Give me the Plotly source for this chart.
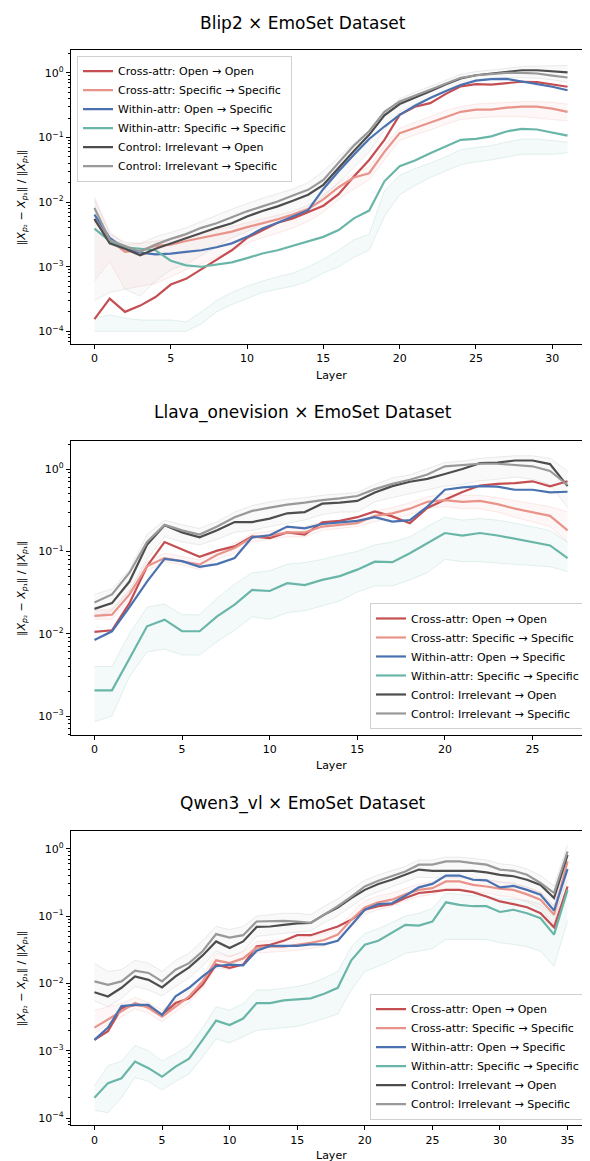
import plotly.graph_objects as go
from plotly.subplots import make_subplots

# ---- data (ratio per layer) ----
series_names = [
    "Cross-attr: Open → Open",
    "Cross-attr: Specific → Specific",
    "Within-attr: Open → Specific",
    "Within-attr: Specific → Specific",
    "Control: Irrelevant → Open",
    "Control: Irrelevant → Specific",
]
panel_titles = ["Blip2 × EmoSet Dataset", "Llava_onevision × EmoSet Dataset", "Qwen3_vl × EmoSet Dataset"]
n_layers = [32, 28, 36]
x_tick_vals = [0, 5, 10, 15, 20, 25, 30, 35]
y_tick_vals = [1e-4, 1e-3, 1e-2, 1e-1, 1e0]
y_tick_text = ["10<sup>−4</sup>", "10<sup>−3</sup>", "10<sup>−2</sup>", "10<sup>−1</sup>", "10<sup>0</sup>"]

# Blip2
blip_cross_open = [1.55e-4, 3.2e-4, 2.0e-4, 2.5e-4, 3.4e-4, 5.3e-4, 6.5e-4, 9.1e-4, 1.3e-3, 1.8e-3,
                   2.8e-3, 3.7e-3, 4.8e-3, 5.6e-3, 7.0e-3, 8.8e-3, 1.33e-2, 2.5e-2, 4.5e-2, 9.2e-2,
                   0.224, 0.30, 0.34, 0.47, 0.62, 0.67, 0.66, 0.70, 0.73, 0.72, 0.67, 0.61]
blip_cross_spec = [5.3e-3, 2.6e-3, 1.7e-3, 1.8e-3, 2.1e-3, 2.2e-3, 2.5e-3, 2.8e-3, 3.1e-3, 3.5e-3,
                   4.1e-3, 4.7e-3, 5.4e-3, 6.4e-3, 7.8e-3, 1.1e-2, 1.7e-2, 2.4e-2, 2.8e-2, 6.0e-2,
                   0.117, 0.14, 0.17, 0.21, 0.25, 0.27, 0.27, 0.29, 0.30, 0.30, 0.28, 0.25]
blip_within_open = [6.4e-3, 2.8e-3, 1.9e-3, 1.65e-3, 1.55e-3, 1.6e-3, 1.7e-3, 1.8e-3, 2.0e-3, 2.3e-3,
                    2.9e-3, 3.9e-3, 4.8e-3, 6.0e-3, 7.5e-3, 1.6e-2, 3.0e-2, 5.4e-2, 9.5e-2, 0.148,
                    0.224, 0.31, 0.41, 0.52, 0.65, 0.76, 0.80, 0.81, 0.74, 0.68, 0.61, 0.54]
blip_within_spec = [3.9e-3, 2.5e-3, 2.0e-3, 1.9e-3, 1.8e-3, 1.24e-3, 1.05e-3, 1.0e-3, 1.08e-3, 1.17e-3,
                    1.36e-3, 1.6e-3, 1.8e-3, 2.1e-3, 2.5e-3, 2.9e-3, 3.7e-3, 5.6e-3, 7.4e-3, 2.1e-2,
                    3.6e-2, 4.4e-2, 5.7e-2, 7.3e-2, 9.2e-2, 9.5e-2, 0.104, 0.124, 0.136, 0.133, 0.12, 0.107]
blip_ctrl_open = [5.5e-3, 2.3e-3, 1.9e-3, 1.5e-3, 1.9e-3, 2.3e-3, 2.8e-3, 3.3e-3, 4.0e-3, 4.7e-3,
                  6.0e-3, 7.3e-3, 8.6e-3, 1.05e-2, 1.3e-2, 1.85e-2, 3.4e-2, 6.2e-2, 0.11, 0.22,
                  0.33, 0.41, 0.52, 0.66, 0.82, 0.92, 0.98, 1.04, 1.1, 1.1, 1.07, 1.02]
blip_ctrl_spec = [8.1e-3, 2.6e-3, 2.1e-3, 1.7e-3, 2.2e-3, 2.7e-3, 3.2e-3, 4.0e-3, 4.7e-3, 5.8e-3,
                  7.2e-3, 8.6e-3, 1.02e-2, 1.27e-2, 1.55e-2, 2.2e-2, 4.0e-2, 7.5e-2, 0.125, 0.25,
                  0.36, 0.44, 0.55, 0.68, 0.84, 0.92, 0.97, 1.0, 1.0, 0.98, 0.91, 0.85]
# per-prompt spread (faint lines), low / high edge
blip_teal_lo = [1.0e-4, 1.0e-4, 1.0e-4, 1.0e-4, 1.0e-4, 1.0e-4, 1.0e-4, 1.3e-4, 2.0e-4, 2.6e-4,
                3.2e-4, 4.0e-4, 4.5e-4, 5.0e-4, 6.0e-4, 8.0e-4, 1.0e-3, 1.4e-3, 1.8e-3, 6.0e-3,
                1.3e-2, 1.8e-2, 2.4e-2, 3.0e-2, 3.8e-2, 4.2e-2, 4.5e-2, 5.0e-2, 5.5e-2, 5.5e-2, 5.5e-2, 5.8e-2]
blip_teal_hi = [1.6e-4, 1.8e-4, 1.6e-4, 1.5e-4, 1.5e-4, 1.5e-4, 1.4e-4, 2.0e-4, 3.0e-4, 4.0e-4,
                5.0e-4, 6.0e-4, 7.0e-4, 8.0e-4, 1.0e-3, 1.3e-3, 1.8e-3, 2.6e-3, 3.2e-3, 1.5e-2,
                2.6e-2, 3.3e-2, 4.0e-2, 5.0e-2, 6.5e-2, 7.0e-2, 7.5e-2, 8.5e-2, 9.5e-2, 9.5e-2, 9.0e-2, 8.5e-2]
blip_salmon_lo = [6.0e-4, 1.2e-3, 4.5e-4, 5.0e-4, 5.5e-4, 7.0e-4, 9.0e-4, 1.1e-3, 1.4e-3, 1.8e-3,
                  2.3e-3, 2.8e-3, 3.3e-3, 4.0e-3, 5.0e-3, 7.0e-3, 1.1e-2, 1.6e-2, 2.2e-2, 4.5e-2,
                  9.0e-2, 0.11, 0.13, 0.16, 0.19, 0.20, 0.21, 0.21, 0.21, 0.20, 0.19, 0.18]
blip_salmon_hi = [1.2e-2, 3.5e-3, 2.2e-3, 2.3e-3, 2.5e-3, 2.7e-3, 2.9e-3, 3.3e-3, 3.7e-3, 4.2e-3,
                  4.8e-3, 5.5e-3, 6.2e-3, 7.2e-3, 9.0e-3, 1.3e-2, 2.0e-2, 2.8e-2, 3.5e-2, 7.5e-2,
                  0.14, 0.17, 0.21, 0.26, 0.30, 0.33, 0.34, 0.35, 0.36, 0.36, 0.35, 0.33]
blip_gray_lo = [3.0e-4, 4.0e-4, 4.5e-4, 3.5e-4, 6.0e-4, 9.0e-4, 1.1e-3, 1.5e-3, 2.0e-3, 2.8e-3,
                3.5e-3, 4.5e-3, 5.5e-3, 6.5e-3, 8.0e-3, 1.2e-2, 2.0e-2, 3.5e-2, 6.0e-2, 0.13,
                0.25, 0.33, 0.42, 0.55, 0.68, 0.78, 0.83, 0.85, 0.85, 0.83, 0.78, 0.72]
blip_gray_hi = [1.1e-2, 3.2e-3, 2.4e-3, 2.3e-3, 2.9e-3, 3.4e-3, 4.0e-3, 5.0e-3, 6.3e-3, 7.8e-3,
                9.5e-3, 1.15e-2, 1.35e-2, 1.6e-2, 2.0e-2, 3.0e-2, 5.0e-2, 8.0e-2, 0.13, 0.24,
                0.40, 0.50, 0.62, 0.78, 0.95, 1.05, 1.12, 1.18, 1.25, 1.28, 1.30, 1.30]

# Llava_onevision
llava_cross_open = [1.05e-2, 1.1e-2, 2.35e-2, 6.6e-2, 0.13, 0.105, 0.086, 0.102, 0.115, 0.152,
                    0.145, 0.17, 0.16, 0.225, 0.235, 0.26, 0.306, 0.266, 0.22, 0.336,
                    0.425, 0.525, 0.63, 0.66, 0.675, 0.71, 0.615, 0.71]
llava_cross_spec = [1.65e-2, 1.7e-2, 3.0e-2, 6.6e-2, 8.3e-2, 7.6e-2, 6.9e-2, 9.1e-2, 0.11, 0.148,
                    0.155, 0.17, 0.17, 0.20, 0.21, 0.22, 0.27, 0.29, 0.33, 0.40,
                    0.42, 0.40, 0.41, 0.375, 0.33, 0.30, 0.27, 0.18]
llava_within_open = [8.4e-3, 1.07e-2, 2.1e-2, 4.3e-2, 8.1e-2, 7.6e-2, 6.5e-2, 7.0e-2, 8.3e-2, 0.148,
                     0.157, 0.20, 0.19, 0.215, 0.225, 0.235, 0.26, 0.23, 0.24, 0.35,
                     0.56, 0.60, 0.62, 0.61, 0.56, 0.56, 0.52, 0.53]
llava_within_spec = [2.05e-3, 2.05e-3, 5.0e-3, 1.23e-2, 1.48e-2, 1.07e-2, 1.07e-2, 1.62e-2, 2.25e-2, 3.4e-2,
                     3.3e-2, 4.1e-2, 3.9e-2, 4.5e-2, 5.0e-2, 6.0e-2, 7.5e-2, 7.4e-2, 9.5e-2, 0.127,
                     0.167, 0.155, 0.167, 0.156, 0.142, 0.13, 0.118, 0.083]
llava_ctrl_open = [2.0e-2, 2.35e-2, 4.3e-2, 0.12, 0.207, 0.17, 0.148, 0.18, 0.227, 0.227,
                   0.25, 0.29, 0.30, 0.38, 0.39, 0.41, 0.52, 0.62, 0.70, 0.76,
                   0.87, 1.0, 1.18, 1.2, 1.27, 1.27, 1.15, 0.62]
llava_ctrl_spec = [2.4e-2, 3.0e-2, 5.5e-2, 0.13, 0.21, 0.18, 0.16, 0.20, 0.26, 0.31,
                   0.34, 0.37, 0.39, 0.42, 0.44, 0.47, 0.57, 0.66, 0.74, 0.86,
                   1.08, 1.12, 1.16, 1.16, 1.12, 1.08, 0.95, 0.64]
llava_teal_lo = [8.5e-4, 1.0e-3, 3.0e-3, 6.0e-3, 6.5e-3, 5.5e-3, 5.5e-3, 8.0e-3, 1.1e-2, 1.6e-2,
                 1.5e-2, 1.8e-2, 1.9e-2, 2.2e-2, 2.5e-2, 3.2e-2, 3.8e-2, 3.8e-2, 4.5e-2, 5.5e-2,
                 8.0e-2, 7.5e-2, 7.5e-2, 7.2e-2, 7.0e-2, 6.8e-2, 6.5e-2, 5.7e-2]
llava_teal_hi = [4.0e-3, 4.0e-3, 1.0e-2, 2.1e-2, 2.3e-2, 1.7e-2, 1.7e-2, 2.7e-2, 4.0e-2, 5.5e-2,
                 5.8e-2, 7.0e-2, 7.3e-2, 8.0e-2, 9.0e-2, 0.10, 0.12, 0.13, 0.15, 0.20,
                 0.26, 0.24, 0.25, 0.24, 0.22, 0.20, 0.18, 0.13]
llava_salmon_lo = [1.5e-2, 1.5e-2, 2.6e-2, 5.8e-2, 7.5e-2, 6.8e-2, 6.0e-2, 8.0e-2, 9.5e-2, 0.13,
                   0.14, 0.15, 0.15, 0.18, 0.19, 0.20, 0.23, 0.25, 0.28, 0.33,
                   0.35, 0.33, 0.33, 0.30, 0.26, 0.23, 0.20, 0.13]
llava_salmon_hi = [1.9e-2, 2.0e-2, 3.4e-2, 7.5e-2, 9.5e-2, 8.6e-2, 7.9e-2, 0.10, 0.125, 0.165,
                   0.175, 0.19, 0.20, 0.23, 0.24, 0.26, 0.31, 0.34, 0.39, 0.46,
                   0.50, 0.48, 0.48, 0.45, 0.41, 0.38, 0.35, 0.30]
llava_gray_lo = [1.6e-2, 1.9e-2, 3.3e-2, 8.0e-2, 0.15, 0.13, 0.12, 0.14, 0.17, 0.18,
                 0.20, 0.22, 0.24, 0.28, 0.30, 0.30, 0.40, 0.45, 0.50, 0.56,
                 0.62, 0.65, 0.72, 0.75, 0.80, 0.75, 0.65, 0.34]
llava_gray_hi = [3.0e-2, 3.5e-2, 6.0e-2, 0.16, 0.24, 0.21, 0.19, 0.23, 0.30, 0.36,
                 0.40, 0.43, 0.45, 0.48, 0.50, 0.52, 0.65, 0.78, 0.85, 1.0,
                 1.2, 1.25, 1.35, 1.4, 1.45, 1.45, 1.35, 0.95]

# Qwen3_vl
qwen_cross_open = [1.45e-3, 1.95e-3, 4.3e-3, 4.8e-3, 4.6e-3, 3.4e-3, 5.1e-3, 6.0e-3, 9.5e-3, 1.9e-2,
                   1.7e-2, 1.9e-2, 3.55e-2, 3.75e-2, 4.3e-2, 5.2e-2, 5.2e-2, 6.0e-2, 7.0e-2, 8.8e-2,
                   0.124, 0.14, 0.15, 0.185, 0.22, 0.23, 0.245, 0.245, 0.227, 0.195,
                   0.165, 0.15, 0.135, 0.11, 0.068, 0.275]
qwen_cross_spec = [2.2e-3, 2.9e-3, 3.8e-3, 5.1e-3, 4.3e-3, 3.2e-3, 4.5e-3, 6.4e-3, 1.07e-2, 2.2e-2,
                   2.0e-2, 2.35e-2, 3.4e-2, 3.5e-2, 3.5e-2, 3.7e-2, 4.0e-2, 4.4e-2, 5.3e-2, 8.8e-2,
                   0.134, 0.16, 0.175, 0.21, 0.245, 0.26, 0.327, 0.327, 0.29, 0.275,
                   0.255, 0.245, 0.21, 0.175, 0.105, 0.65]
qwen_within_open = [1.45e-3, 2.2e-3, 4.6e-3, 4.8e-3, 4.8e-3, 3.4e-3, 6.4e-3, 8.6e-3, 1.27e-2, 1.8e-2,
                    1.9e-2, 1.85e-2, 3.05e-2, 3.6e-2, 3.6e-2, 3.6e-2, 3.8e-2, 3.8e-2, 4.3e-2, 7.4e-2,
                    0.124, 0.15, 0.155, 0.20, 0.267, 0.30, 0.40, 0.40, 0.346, 0.34,
                    0.267, 0.28, 0.245, 0.207, 0.121, 0.50]
qwen_within_spec = [2.0e-4, 3.3e-4, 3.9e-4, 6.9e-4, 5.5e-4, 4.1e-4, 5.8e-4, 7.6e-4, 1.45e-3, 2.8e-3,
                    2.4e-3, 3.0e-3, 5.1e-3, 5.1e-3, 5.6e-3, 5.8e-3, 6.0e-3, 7.0e-3, 8.6e-3, 2.2e-2,
                    3.75e-2, 4.3e-2, 5.6e-2, 7.4e-2, 7.2e-2, 8.3e-2, 0.16, 0.147, 0.14, 0.14,
                    0.115, 0.124, 0.11, 0.093, 0.053, 0.245]
qwen_ctrl_open = [7.4e-3, 6.4e-3, 8.6e-3, 1.27e-2, 1.13e-2, 8.7e-3, 1.27e-2, 1.73e-2, 2.6e-2, 4.2e-2,
                  3.35e-2, 4.2e-2, 6.9e-2, 7.0e-2, 7.4e-2, 7.8e-2, 7.9e-2, 0.105, 0.134, 0.185,
                  0.245, 0.30, 0.346, 0.41, 0.49, 0.47, 0.47, 0.475, 0.47, 0.445,
                  0.41, 0.39, 0.346, 0.29, 0.185, 0.81]
qwen_ctrl_spec = [1.07e-2, 9.5e-3, 1.07e-2, 1.54e-2, 1.43e-2, 1.07e-2, 1.6e-2, 2.0e-2, 3.0e-2, 5.4e-2,
                  4.8e-2, 5.2e-2, 8.3e-2, 8.5e-2, 8.5e-2, 8.3e-2, 7.9e-2, 0.105, 0.14, 0.195,
                  0.275, 0.335, 0.39, 0.46, 0.58, 0.58, 0.65, 0.65, 0.61, 0.58,
                  0.49, 0.47, 0.41, 0.31, 0.22, 0.91]
qwen_teal_lo = [1.3e-4, 1.2e-4, 2.0e-4, 4.0e-4, 3.5e-4, 2.6e-4, 3.5e-4, 4.5e-4, 8.0e-4, 1.5e-3,
                1.3e-3, 1.6e-3, 2.0e-3, 2.1e-3, 2.2e-3, 2.3e-3, 2.6e-3, 3.0e-3, 3.5e-3, 8.0e-3,
                1.5e-2, 1.8e-2, 2.2e-2, 2.8e-2, 3.0e-2, 3.3e-2, 4.5e-2, 4.5e-2, 4.5e-2, 4.5e-2,
                4.0e-2, 3.8e-2, 3.5e-2, 3.0e-2, 1.8e-2, 8.5e-2]
qwen_teal_hi = [3.0e-4, 6.0e-4, 7.0e-4, 1.2e-3, 1.0e-3, 7.0e-4, 9.0e-4, 1.2e-3, 2.2e-3, 4.5e-3,
                4.0e-3, 5.0e-3, 8.0e-3, 8.0e-3, 8.5e-3, 9.0e-3, 1.0e-2, 1.2e-2, 1.5e-2, 3.5e-2,
                5.5e-2, 6.5e-2, 8.0e-2, 0.10, 0.11, 0.13, 0.22, 0.21, 0.20, 0.20,
                0.18, 0.18, 0.17, 0.15, 0.10, 0.35]
qwen_salmon_lo = [1.8e-3, 2.5e-3, 3.2e-3, 4.2e-3, 3.6e-3, 2.7e-3, 3.8e-3, 5.2e-3, 8.5e-3, 1.7e-2,
                  1.6e-2, 1.9e-2, 2.8e-2, 2.9e-2, 3.0e-2, 3.1e-2, 3.3e-2, 3.6e-2, 4.3e-2, 7.0e-2,
                  0.105, 0.125, 0.14, 0.17, 0.195, 0.21, 0.25, 0.25, 0.23, 0.22,
                  0.20, 0.19, 0.16, 0.13, 0.075, 0.45]
qwen_salmon_hi = [4.0e-3, 4.5e-3, 5.0e-3, 6.2e-3, 5.2e-3, 4.0e-3, 5.5e-3, 7.8e-3, 1.3e-2, 2.8e-2,
                  2.5e-2, 2.9e-2, 4.2e-2, 4.3e-2, 4.4e-2, 4.6e-2, 5.0e-2, 5.5e-2, 6.5e-2, 0.11,
                  0.17, 0.20, 0.22, 0.26, 0.30, 0.32, 0.40, 0.40, 0.36, 0.34,
                  0.32, 0.31, 0.27, 0.23, 0.14, 0.85]
qwen_gray_lo = [5.5e-3, 4.5e-3, 6.0e-3, 9.0e-3, 8.0e-3, 6.5e-3, 9.0e-3, 1.2e-2, 1.8e-2, 3.0e-2,
                2.5e-2, 3.0e-2, 5.0e-2, 5.2e-2, 5.5e-2, 5.8e-2, 6.0e-2, 8.0e-2, 0.10, 0.14,
                0.19, 0.23, 0.27, 0.32, 0.38, 0.37, 0.37, 0.37, 0.37, 0.35,
                0.32, 0.30, 0.27, 0.22, 0.14, 0.60]
qwen_gray_hi = [2.0e-2, 1.5e-2, 1.6e-2, 2.2e-2, 2.0e-2, 1.5e-2, 2.2e-2, 2.8e-2, 4.3e-2, 7.0e-2,
                6.3e-2, 7.0e-2, 0.10, 0.105, 0.11, 0.11, 0.105, 0.14, 0.18, 0.25,
                0.34, 0.41, 0.47, 0.55, 0.68, 0.68, 0.75, 0.75, 0.72, 0.68,
                0.60, 0.57, 0.50, 0.40, 0.28, 1.15]

# ---- styling ----
FONT = "DejaVu Sans"
line_colors = ["#c44e52", "#e8948a", "#4a72b0", "#69b6a8", "#4d4d4d", "#999999"]
band_styles = {  # fill, edge
    "teal": ("rgba(105,182,168,0.07)", "rgba(105,182,168,0.22)"),
    "salmon": ("rgba(232,148,138,0.07)", "rgba(232,148,138,0.22)"),
    "gray": ("rgba(150,150,150,0.06)", "rgba(150,150,150,0.22)"),
}

panels = [
    dict(means=[blip_cross_open, blip_cross_spec, blip_within_open, blip_within_spec, blip_ctrl_open, blip_ctrl_spec],
         bands=[("gray", blip_gray_lo, blip_gray_hi), ("salmon", blip_salmon_lo, blip_salmon_hi),
                ("teal", blip_teal_lo, blip_teal_hi)],
         yrange=[-4.196, 0.35],
         legend=dict(x=0.117, y=0.959, xanchor="left", yanchor="top")),
    dict(means=[llava_cross_open, llava_cross_spec, llava_within_open, llava_within_spec, llava_ctrl_open, llava_ctrl_spec],
         bands=[("gray", llava_gray_lo, llava_gray_hi), ("salmon", llava_salmon_lo, llava_salmon_hi),
                ("teal", llava_teal_lo, llava_teal_hi)],
         yrange=[-3.227, 0.337],
         legend=dict(x=0.978, y=0.379, xanchor="right", yanchor="bottom")),
    dict(means=[qwen_cross_open, qwen_cross_spec, qwen_within_open, qwen_within_spec, qwen_ctrl_open, qwen_ctrl_spec],
         bands=[("gray", qwen_gray_lo, qwen_gray_hi), ("salmon", qwen_salmon_lo, qwen_salmon_hi),
                ("teal", qwen_teal_lo, qwen_teal_hi)],
         yrange=[-4.108, 0.259],
         legend=dict(x=0.978, y=0.0425, xanchor="right", yanchor="bottom")),
]

# pixel boxes of the three axes in the 590x1161 page
W, H = 590, 1161
y_boxes = [(42.3, 336.0), (433.3, 726.7), (823.3, 1117.3)]
title_y = [15, 405, 795]
xlabel_y = [367, 757, 1147]
x_dom = [62.8 / W, 583.2 / W]

fig = make_subplots(rows=3, cols=1)
minor_vals = [m * 10.0 ** k for k in range(-5, 1) for m in range(2, 10)]

for i, p in enumerate(panels):
    row = i + 1
    n = n_layers[i]
    layers = list(range(n))
    leg = "legend" if i == 0 else f"legend{i + 1}"

    for kind, lo, hi in p["bands"]:
        fill, edge = band_styles[kind]
        fig.add_trace(go.Scatter(x=layers, y=lo, mode="lines", line=dict(color=edge, width=0.8),
                                 showlegend=False, hoverinfo="skip", legend=leg), row=row, col=1)
        fig.add_trace(go.Scatter(x=layers, y=hi, mode="lines", line=dict(color=edge, width=0.8),
                                 fill="tonexty", fillcolor=fill,
                                 showlegend=False, hoverinfo="skip", legend=leg), row=row, col=1)

    for name, vals, color in zip(series_names, p["means"], line_colors):
        fig.add_trace(go.Scatter(x=layers, y=vals, mode="lines", name=name,
                                 line=dict(color=color, width=2.2), legend=leg), row=row, col=1)

    top, bot = y_boxes[i]
    ax_suffix = "" if i == 0 else str(i + 1)
    fig.update_layout(**{
        f"xaxis{ax_suffix}": dict(
            domain=x_dom, range=[-0.05 * (n - 1), (n - 1) * 1.05],
            tickvals=[v for v in x_tick_vals if v < n],
            showline=True, linecolor="black", linewidth=1, mirror=True,
            ticks="outside", ticklen=4, tickcolor="black",
            showgrid=False, zeroline=False,
            tickfont=dict(family=FONT, size=11, color="black"),
        ),
        f"yaxis{ax_suffix}": dict(
            type="log", domain=[1 - bot / H, 1 - top / H], range=p["yrange"],
            tickvals=y_tick_vals, ticktext=y_tick_text,
            showline=True, linecolor="black", linewidth=1, mirror=True,
            ticks="outside", ticklen=4, tickcolor="black",
            minor=dict(tickvals=minor_vals, ticks="outside", ticklen=2, tickcolor="black", showgrid=False),
            showgrid=False, zeroline=False,
            tickfont=dict(family=FONT, size=11, color="black"),
        ),
        leg: dict(**p["legend"], bgcolor="rgba(255,255,255,0.85)", bordercolor="#d0d0d0",
                  borderwidth=1, font=dict(family=FONT, size=11, color="black"),
                  traceorder="normal", tracegroupgap=0, itemwidth=30),
    })

    fig.add_annotation(text=panel_titles[i], x=0.5, y=1 - title_y[i] / H, xref="paper", yref="paper",
                       showarrow=False, xanchor="center", yanchor="middle",
                       font=dict(family=FONT, size=17, color="black"))
    fig.add_annotation(text="Layer", x=(x_dom[0] + x_dom[1]) / 2, y=1 - xlabel_y[i] / H,
                       xref="paper", yref="paper", showarrow=False, yanchor="middle",
                       font=dict(family=FONT, size=11, color="black"))
    fig.add_annotation(
        text="‖<i>X</i><sub><i>p</i>₂</sub> − <i>X</i><sub><i>p</i>₁</sub>‖ / ‖<i>X</i><sub><i>p</i>₁</sub>‖",
        x=14 / W, y=1 - (top + bot) / 2 / H, xref="paper", yref="paper", textangle=-90,
        showarrow=False, xanchor="center", yanchor="middle",
        font=dict(family=FONT, size=11, color="black"))

fig.update_layout(
    width=W, height=H,
    margin=dict(l=0, r=0, t=0, b=0),
    paper_bgcolor="white", plot_bgcolor="white",
    font=dict(family=FONT, size=11, color="black"),
)

fig.write_html("out.html")
